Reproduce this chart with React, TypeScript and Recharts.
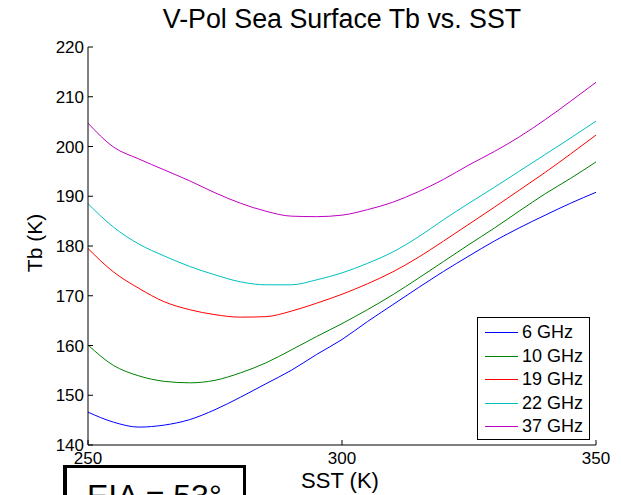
import React from 'react';
import { LineChart, Line, XAxis, YAxis } from 'recharts';

const sst = [250, 255, 260, 265, 270, 275, 280, 285, 290, 295, 300, 305, 310, 315, 320, 325, 330, 335, 340, 345, 350];
const tb6 = [146.6, 144.6, 143.6, 144.0, 145.1, 147.1, 149.6, 152.3, 155.0, 158.2, 161.2, 164.8, 168.2, 171.6, 174.9, 178.0, 181.0, 183.7, 186.2, 188.6, 190.8];
const tb10 = [160.1, 156.0, 153.9, 152.8, 152.5, 153.0, 154.5, 156.5, 159.1, 161.8, 164.4, 167.2, 170.2, 173.5, 176.9, 180.3, 183.6, 187.1, 190.5, 193.6, 196.9];
const tb19 = [179.5, 174.8, 171.5, 168.8, 167.2, 166.2, 165.7, 165.8, 166.9, 168.5, 170.3, 172.4, 174.8, 177.7, 181.0, 184.4, 187.8, 191.3, 194.8, 198.5, 202.3];
const tb22 = [188.5, 183.8, 180.4, 178.0, 175.9, 174.2, 172.8, 172.2, 172.2, 173.2, 174.6, 176.5, 178.8, 181.8, 185.3, 188.6, 191.8, 195.1, 198.4, 201.7, 205.1];
const tb37 = [204.7, 199.9, 197.5, 195.3, 193.1, 190.7, 188.6, 187.0, 186.0, 185.9, 186.2, 187.3, 188.8, 190.9, 193.4, 196.3, 199.0, 202.0, 205.4, 209.1, 212.9];

const xTicks = [250, 300, 350];
const yTicks = [140, 150, 160, 170, 180, 190, 200, 210, 220];

const series = [
  { key: 'tb6', name: '6 GHz', color: '#0000FF', values: tb6 },
  { key: 'tb10', name: '10 GHz', color: '#008000', values: tb10 },
  { key: 'tb19', name: '19 GHz', color: '#FF0000', values: tb19 },
  { key: 'tb22', name: '22 GHz', color: '#00BFBF', values: tb22 },
  { key: 'tb37', name: '37 GHz', color: '#BF00BF', values: tb37 },
];

const data = sst.map((s, i) => {
  const row: Record<string, number> = { sst: s };
  series.forEach((ser) => {
    row[ser.key] = ser.values[i];
  });
  return row;
});

const FONT = '"Liberation Sans", Arial, Helvetica, sans-serif';

const LegendBox = () => (
  <div
    style={{
      position: 'absolute',
      left: 477,
      top: 317,
      border: '1px solid #000',
      background: '#fff',
      width: 113,
      height: 123,
      boxSizing: 'border-box',
      paddingTop: 3,
      fontFamily: FONT,
      fontSize: 18,
      color: '#000',
    }}
  >
    {series.map((s) => (
      <div key={s.key} style={{ display: 'flex', alignItems: 'center', height: 23.5 }}>
        <div style={{ marginLeft: 7, width: 33, height: 1, background: s.color }} />
        <span style={{ marginLeft: 4, lineHeight: '23px' }}>{s.name}</span>
      </div>
    ))}
  </div>
);

export default function App() {
  return (
    <div style={{ position: 'absolute', left: 0, top: 0, width: 621, height: 495, overflow: 'hidden', background: '#fff' }}>
      <div
        style={{
          position: 'absolute',
          left: 0,
          width: 684,
          top: 3,
          textAlign: 'center',
          fontFamily: FONT,
          fontSize: 26.8,
          color: '#000',
          lineHeight: '32px',
        }}
      >
        V-Pol Sea Surface Tb vs. SST
      </div>
      <LineChart
        width={621}
        height={495}
        data={data}
        margin={{ top: 47, right: 25, bottom: 0, left: 0 }}
      >
        <XAxis
          dataKey="sst"
          type="number"
          domain={[250, 350]}
          ticks={xTicks}
          allowDataOverflow
          tickSize={-5}
          tickMargin={12}
          height={50}
          stroke="#000"
          tick={{ fill: '#000', fontSize: 17, fontFamily: FONT }}
          label={{
            content: () => (
              <text x={340} y={488} textAnchor="middle" fontSize={22} fontFamily={FONT} fill="#000">
                SST (K)
              </text>
            ),
          }}
        />
        <XAxis
          xAxisId="top"
          dataKey="sst"
          type="number"
          orientation="top"
          domain={[250, 350]}
          ticks={xTicks}
          tickSize={-5}
          height={0}
          stroke="#000"
          tick={false}
        />
        <YAxis
          type="number"
          domain={[140, 220]}
          ticks={yTicks}
          allowDataOverflow
          width={88}
          tickSize={-5}
          tickMargin={9}
          stroke="#000"
          tick={{ fill: '#000', fontSize: 17, fontFamily: FONT }}
          label={{
            content: () => (
              <text
                x={42}
                y={243}
                textAnchor="middle"
                fontSize={21}
                fontFamily={FONT}
                fill="#000"
                transform="rotate(-90 42 243)"
              >
                Tb (K)
              </text>
            ),
          }}
        />
        <YAxis
          yAxisId="right"
          orientation="right"
          type="number"
          domain={[140, 220]}
          ticks={yTicks}
          width={0}
          tickSize={-5}
          stroke="#000"
          tick={false}
        />
        {series.map((s) => (
          <Line
            key={s.key}
            type="monotone"
            dataKey={s.key}
            name={s.name}
            stroke={s.color}
            strokeWidth={1}
            dot={false}
            isAnimationActive={false}
          />
        ))}
      </LineChart>
      <LegendBox />
      <div
        style={{
          position: 'absolute',
          left: 63,
          top: 465,
          width: 176,
          height: 60,
          border: '3px solid #000',
          borderLeftWidth: 4,
          background: '#fff',
          fontFamily: FONT,
          fontSize: 32,
          color: '#000',
        }}
      >
        <span style={{ position: 'absolute', left: 20, top: 10, whiteSpace: 'pre' }}>EIA = 53°</span>
      </div>
    </div>
  );
}
